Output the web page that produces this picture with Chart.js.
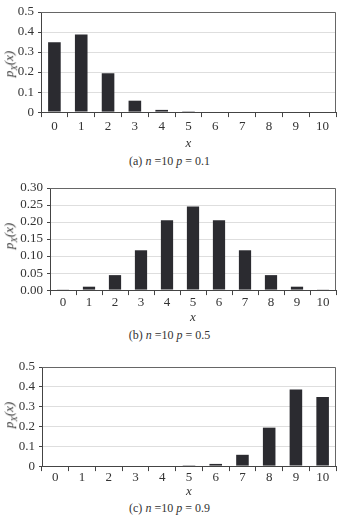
<!DOCTYPE html>
<html>
<head>
<meta charset="utf-8">
<script src="https://cdn.jsdelivr.net/npm/chart.js@4.4.1/dist/chart.umd.min.js"></script>
<style>
  html, body { margin: 0; padding: 0; background: #fff; }
  body { width: 339px; height: 516px; position: relative; overflow: hidden;
         font-family: "Liberation Serif", "DejaVu Serif", serif; color: #333; }
  .box { position: absolute; left: 0; width: 339px; }
  .ytitle { position: absolute; font-size: 13px; font-style: italic; white-space: nowrap;
            transform: translate(-50%, -50%) rotate(-90deg); }
  .ytitle sub { font-size: 9px; }
  .caption { position: absolute; left: 0; width: 339px; text-align: center; font-size: 12px; }
</style>
</head>
<body>

<div class="box" style="top:0;height:151px"><canvas id="chartA"></canvas></div>
<div class="ytitle" style="left:10px;top:64px">p<sub>X</sub>(x)</div>
<div class="caption" style="top:154px">(a) <i>n</i> =10 <i>p</i> = 0.1</div>

<div class="box" style="top:172px;height:153px"><canvas id="chartB"></canvas></div>
<div class="ytitle" style="left:10px;top:236px">p<sub>X</sub>(x)</div>
<div class="caption" style="top:328px">(b) <i>n</i> =10 <i>p</i> = 0.5</div>

<div class="box" style="top:351px;height:148px"><canvas id="chartC"></canvas></div>
<div class="ytitle" style="left:10px;top:415px">p<sub>X</sub>(x)</div>
<div class="caption" style="top:501px">(c) <i>n</i> =10 <i>p</i> = 0.9</div>

<script>
/* =========================
   DATA
========================= */
const xValues = ["0", "1", "2", "3", "4", "5", "6", "7", "8", "9", "10"];

const probA = [0.349, 0.387, 0.194, 0.057, 0.011, 0.001, 0, 0, 0, 0, 0];
const probB = [0.001, 0.010, 0.044, 0.117, 0.205, 0.246, 0.205, 0.117, 0.044, 0.010, 0.001];
const probC = [0, 0, 0, 0, 0, 0.001, 0.011, 0.057, 0.194, 0.387, 0.349];

const ticksA = [0, 0.1, 0.2, 0.3, 0.4, 0.5];
const ticksB = [0, 0.05, 0.10, 0.15, 0.20, 0.25, 0.30];
const ticksC = [0, 0.1, 0.2, 0.3, 0.4, 0.5];

/* =========================
   SHARED STYLE
========================= */
const serif = "'Liberation Serif', 'DejaVu Serif', serif";
const axisColor = "#444";
const barColor = "#2b2b30";

// top + right frame of the plot area
const frame = {
  id: "frame",
  afterDraw(chart) {
    const a = chart.chartArea;
    const ctx = chart.ctx;
    ctx.save();
    ctx.strokeStyle = "#666";
    ctx.lineWidth = 1;
    ctx.beginPath();
    ctx.moveTo(a.left, a.top + 0.5);
    ctx.lineTo(a.right - 0.5, a.top + 0.5);
    ctx.lineTo(a.right - 0.5, a.bottom);
    ctx.stroke();
    ctx.restore();
  }
};

function makeChart(id, values, tickList, decimals, axisWidth, topPad, labelPad) {
  const max = tickList[tickList.length - 1];
  return new Chart(document.getElementById(id), {
    type: "bar",
    data: {
      labels: xValues,
      datasets: [{
        data: values,
        backgroundColor: barColor,
        categoryPercentage: 1,
        barPercentage: 0.47
      }]
    },
    options: {
      responsive: true,
      maintainAspectRatio: false,
      animation: false,
      layout: { padding: { top: topPad, right: 3, left: 0, bottom: 0 } },
      plugins: { legend: { display: false }, tooltip: { enabled: false } },
      scales: {
        x: {
          grid: { offset: true, drawOnChartArea: false, drawTicks: true, tickLength: 5, color: axisColor },
          border: { color: axisColor },
          ticks: { color: "#333", padding: labelPad, font: { family: serif, size: 13 } },
          title: { display: true, text: "x", color: "#333", padding: { top: 0, bottom: 0 },
                   font: { family: serif, size: 13, style: "italic", lineHeight: 1.1 } }
        },
        y: {
          min: 0,
          max: max,
          afterFit(scale) { scale.width = axisWidth; },
          afterBuildTicks(scale) { scale.ticks = tickList.map(v => ({ value: v })); },
          grid: { color: "#dedede", tickLength: 3, tickColor: axisColor },
          border: { color: axisColor },
          ticks: {
            autoSkip: false,
            color: "#333",
            padding: 4,
            font: { family: serif, size: 13 },
            callback: v => v === 0 && decimals === 1 ? "0" : v.toFixed(decimals)
          }
        }
      }
    },
    plugins: [frame]
  });
}

/* =========================
   CHARTS
========================= */
makeChart("chartA", probA, ticksA, 1, 41, 12, 2);
makeChart("chartB", probB, ticksB, 2, 50, 16, 0);
makeChart("chartC", probC, ticksC, 1, 42, 16, -1);
</script>
</body>
</html>
